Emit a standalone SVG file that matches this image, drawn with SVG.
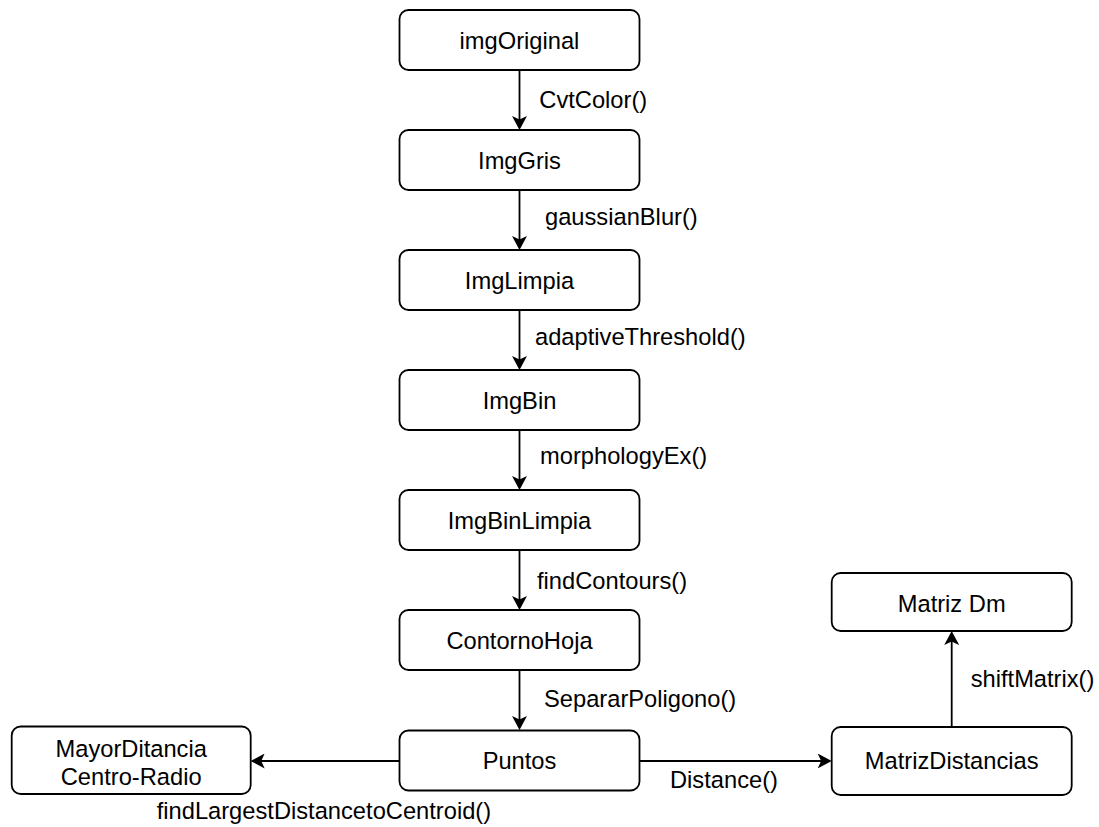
<svg xmlns="http://www.w3.org/2000/svg" width="1099" height="827" viewBox="0 0 1099 827">
  <style>
    .box { fill: #ffffff; stroke: #000000; stroke-width: 1.8; }
    .lbl { font-family: "Liberation Sans", Arial, Helvetica, sans-serif; font-size: 23.7px; fill: #000000; }
    .mid { text-anchor: middle; }
    .edge { fill: none; stroke: #000000; stroke-width: 1.8; marker-end: url(#arrow); }
  </style>
  <defs>
    <marker id="arrow" markerUnits="userSpaceOnUse" viewBox="0 0 14 15" refX="11" refY="7.5" markerWidth="14" markerHeight="15" orient="auto">
      <path d="M0,0 L14,7.5 L0,15 L3.5,7.5 Z" fill="#000000"/>
    </marker>
  </defs>
  <rect width="1099" height="827" fill="#ffffff"/>

  <!-- connectors -->
  <g id="connectors">
    <path class="edge" d="M519.5,70 L519.5,127"/>
    <path class="edge" d="M519.5,190 L519.5,247"/>
    <path class="edge" d="M519.5,310 L519.5,367"/>
    <path class="edge" d="M519.5,430 L519.5,487"/>
    <path class="edge" d="M519.5,550 L519.5,607"/>
    <path class="edge" d="M519.5,670 L519.5,727"/>
    <path class="edge" d="M399.5,761 L253.7,761"/>
    <path class="edge" d="M639.5,761 L828.7,761"/>
    <path class="edge" d="M951.7,727 L951.7,634"/>

    <text class="lbl" x="539.3" y="107.5">CvtColor()</text>
    <text class="lbl" x="545" y="225">gaussianBlur()</text>
    <text class="lbl" x="535" y="345">adaptiveThreshold()</text>
    <text class="lbl" x="540" y="464">morphologyEx()</text>
    <text class="lbl" x="537" y="589">findContours()</text>
    <text class="lbl" x="544" y="707">SepararPoligono()</text>
    <text class="lbl" x="670" y="788">Distance()</text>
    <text class="lbl" x="970.7" y="687">shiftMatrix()</text>
    <text class="lbl" x="156.7" y="819">findLargestDistancetoCentroid()</text>
  </g>

  <!-- nodes -->
  <g id="imgOriginal">
    <rect class="box" x="399.5" y="10" width="240" height="60" rx="9"/>
    <text class="lbl mid" x="519.5" y="49">imgOriginal</text>
  </g>
  <g id="ImgGris">
    <rect class="box" x="399.5" y="130" width="240" height="60" rx="9"/>
    <text class="lbl mid" x="519.5" y="169">ImgGris</text>
  </g>
  <g id="ImgLimpia">
    <rect class="box" x="399.5" y="250" width="240" height="60" rx="9"/>
    <text class="lbl mid" x="519.5" y="289">ImgLimpia</text>
  </g>
  <g id="ImgBin">
    <rect class="box" x="399.5" y="370" width="240" height="60" rx="9"/>
    <text class="lbl mid" x="519.5" y="409">ImgBin</text>
  </g>
  <g id="ImgBinLimpia">
    <rect class="box" x="399.5" y="490" width="240" height="60" rx="9"/>
    <text class="lbl mid" x="519.5" y="529">ImgBinLimpia</text>
  </g>
  <g id="ContornoHoja">
    <rect class="box" x="399.5" y="610" width="240" height="60" rx="9"/>
    <text class="lbl mid" x="519.5" y="649">ContornoHoja</text>
  </g>
  <g id="Puntos">
    <rect class="box" x="399.5" y="730.5" width="240" height="60" rx="9"/>
    <text class="lbl mid" x="519.5" y="769.3">Puntos</text>
  </g>
  <g id="MayorDitancia">
    <rect class="box" x="11.7" y="726.5" width="239" height="67.5" rx="9"/>
    <text class="lbl mid" x="131.2" y="757">MayorDitancia</text>
    <text class="lbl mid" x="131.2" y="785">Centro-Radio</text>
  </g>
  <g id="MatrizDistancias">
    <rect class="box" x="831.7" y="727" width="240" height="68" rx="9"/>
    <text class="lbl mid" x="951.7" y="769">MatrizDistancias</text>
  </g>
  <g id="MatrizDm">
    <rect class="box" x="831.7" y="573" width="240" height="58" rx="9"/>
    <text class="lbl mid" x="951.7" y="611.5">Matriz Dm</text>
  </g>
</svg>
